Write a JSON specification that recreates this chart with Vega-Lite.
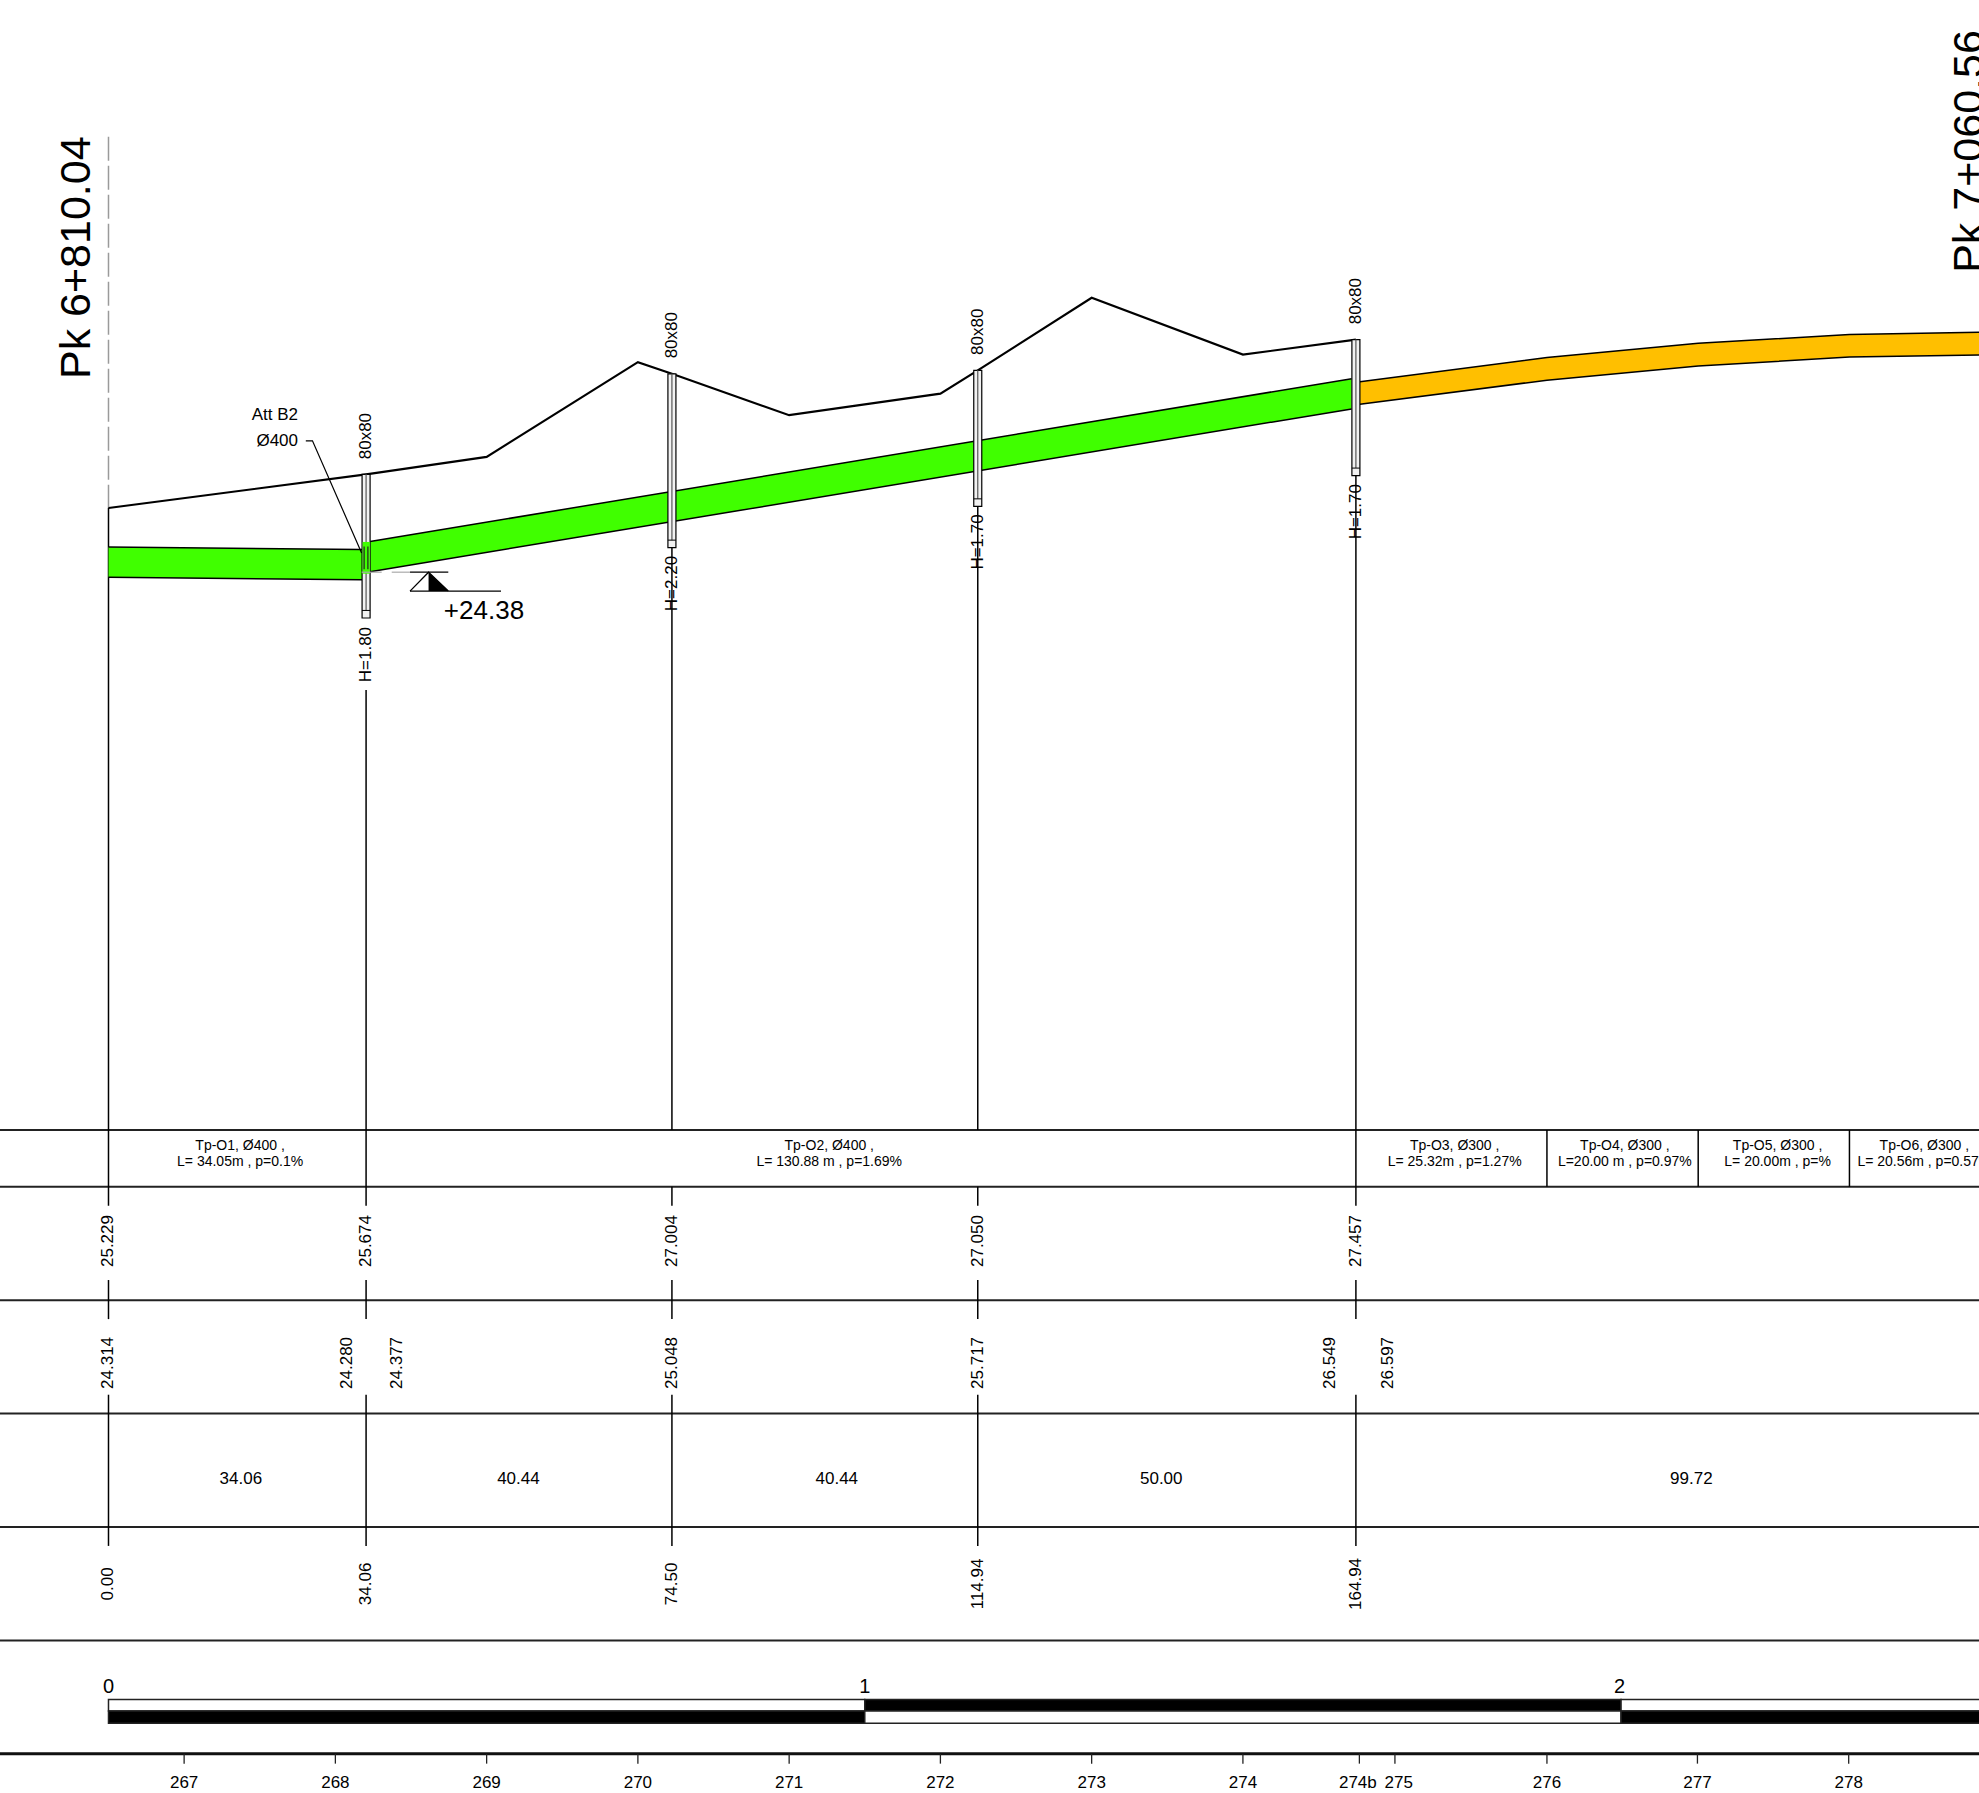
{"$schema":"https://vega.github.io/schema/vega-lite/v6.json","width":1979,"height":1793,"padding":0,"autosize":{"type":"none"},"background":"white","config":{"view":{"stroke":null}},
"datasets":{
"horiz":[{"y":17,"x":-14.346,"x2":247.33},{"y":16.25,"x":-14.346,"x2":247.33},{"y":14.75,"x":-14.346,"x2":247.33},{"y":13.25,"x":-14.346,"x2":247.33},{"y":11.75,"x":-14.346,"x2":247.33},{"y":10.25,"x":-14.346,"x2":247.33}],
"vert":[{"x":0,"y":25.229,"y2":16},{"x":0,"y":15.017,"y2":14.5},{"x":0,"y":13.5,"y2":11.5},
{"x":34.06,"y":22.82,"y2":16},{"x":34.06,"y":15.017,"y2":14.5},{"x":34.06,"y":13.5,"y2":11.5},
{"x":74.5,"y":24.7,"y2":17},{"x":74.5,"y":16.25,"y2":16},{"x":74.5,"y":15.017,"y2":14.5},{"x":74.5,"y":13.5,"y2":11.5},
{"x":114.94,"y":25.25,"y2":17},{"x":114.94,"y":16.25,"y2":16},{"x":114.94,"y":15.017,"y2":14.5},{"x":114.94,"y":13.5,"y2":11.5},
{"x":164.94,"y":25.657,"y2":16},{"x":164.94,"y":15.017,"y2":14.5},{"x":164.94,"y":13.5,"y2":11.5},
{"x":190.2,"y":17,"y2":16.25},{"x":210.2,"y":17,"y2":16.25},{"x":230.2,"y":17,"y2":16.25}],
"pipes":[{"pipe":"P1","kind":"green","x":0,"inv":24.314,"crown":24.714},{"pipe":"P1","kind":"green","x":33.53,"inv":24.28,"crown":24.68},
{"pipe":"P2","kind":"green","x":34.59,"inv":24.386,"crown":24.786},{"pipe":"P2","kind":"green","x":164.38,"inv":26.54,"crown":26.94},
{"pipe":"P3","kind":"orange","x":165.47,"inv":26.6,"crown":26.9},{"pipe":"P3","kind":"orange","x":190.2,"inv":26.92,"crown":27.22},{"pipe":"P3","kind":"orange","x":210.2,"inv":27.107,"crown":27.407},{"pipe":"P3","kind":"orange","x":230.2,"inv":27.225,"crown":27.525},{"pipe":"P3","kind":"orange","x":247.33,"inv":27.253,"crown":27.553}],
"ground":[{"x":0,"y":25.229},{"x":34.06,"y":25.674},{"x":50,"y":25.906},{"x":70,"y":27.158},{"x":74.5,"y":27.004},{"x":90,"y":26.457},{"x":110,"y":26.741},{"x":114.94,"y":27.05},{"x":130,"y":28.01},{"x":150,"y":27.258},{"x":164.94,"y":27.457}],
"manholes":[{"x":33.53,"x2":34.59,"cx":34.06,"y":25.674,"y2":23.774,"inner":23.874},{"x":73.97,"x2":75.03,"cx":74.5,"y":27.004,"y2":24.704,"inner":24.804},{"x":114.41,"x2":115.47,"cx":114.94,"y":27.05,"y2":25.25,"inner":25.35},{"x":164.41,"x2":165.47,"cx":164.94,"y":27.457,"y2":25.657,"inner":25.757}],
"scaleBar":[{"x":0,"x2":100,"y":9.47,"y2":9.317,"shade":"w"},{"x":100,"x2":200,"y":9.47,"y2":9.317,"shade":"b"},{"x":200,"x2":250,"y":9.47,"y2":9.317,"shade":"w"},{"x":0,"x2":100,"y":9.317,"y2":9.154,"shade":"b"},{"x":100,"x2":200,"y":9.317,"y2":9.154,"shade":"w"},{"x":200,"x2":250,"y":9.317,"y2":9.154,"shade":"b"}],
"ticks":[{"x":10,"y":8.75,"y2":8.62},{"x":30,"y":8.75,"y2":8.62},{"x":50,"y":8.75,"y2":8.62},{"x":70,"y":8.75,"y2":8.62},{"x":90,"y":8.75,"y2":8.62},{"x":110,"y":8.75,"y2":8.62},{"x":130,"y":8.75,"y2":8.62},{"x":150,"y":8.75,"y2":8.62},{"x":165.4,"y":8.75,"y2":8.62},{"x":170.1,"y":8.75,"y2":8.62},{"x":190.2,"y":8.75,"y2":8.62},{"x":210.1,"y":8.75,"y2":8.62},{"x":230.1,"y":8.75,"y2":8.62}],
"rotated":[{"x":34.06,"y":26.18,"t":"80x80"},{"x":74.5,"y":27.515,"t":"80x80"},{"x":114.94,"y":27.56,"t":"80x80"},{"x":164.94,"y":27.965,"t":"80x80"},
{"x":34.06,"y":23.29,"t":"H=1.80"},{"x":74.5,"y":24.23,"t":"H=2.20"},{"x":114.94,"y":24.78,"t":"H=1.70"},{"x":164.94,"y":25.18,"t":"H=1.70"},
{"x":0,"y":15.533,"t":"25.229"},{"x":34.06,"y":15.533,"t":"25.674"},{"x":74.5,"y":15.533,"t":"27.004"},{"x":114.94,"y":15.533,"t":"27.050"},{"x":164.94,"y":15.533,"t":"27.457"},
{"x":0,"y":13.92,"t":"24.314"},{"x":31.5,"y":13.92,"t":"24.280"},{"x":38.13,"y":13.92,"t":"24.377"},{"x":74.5,"y":13.92,"t":"25.048"},{"x":114.94,"y":13.92,"t":"25.717"},{"x":161.5,"y":13.92,"t":"26.549"},{"x":169.2,"y":13.92,"t":"26.597"},
{"x":0,"y":10.997,"t":"0.00"},{"x":34.06,"y":10.997,"t":"34.06"},{"x":74.5,"y":10.997,"t":"74.50"},{"x":114.94,"y":10.997,"t":"114.94"},{"x":164.94,"y":10.997,"t":"164.94"}],
"partial":[{"x":17.5,"y":12.39,"t":"34.06"},{"x":54.2,"y":12.39,"t":"40.44"},{"x":96.3,"y":12.39,"t":"40.44"},{"x":139.2,"y":12.39,"t":"50.00"},{"x":209.3,"y":12.39,"t":"99.72"}],
"tp":[{"x":17.4,"y":16.79,"t":"Tp-O1, Ø400 ,"},{"x":17.4,"y":16.58,"t":"L= 34.05m , p=0.1%"},{"x":95.3,"y":16.79,"t":"Tp-O2, Ø400 ,"},{"x":95.3,"y":16.58,"t":"L= 130.88 m , p=1.69%"},{"x":178,"y":16.79,"t":"Tp-O3, Ø300 ,"},{"x":178,"y":16.58,"t":"L= 25.32m , p=1.27%"},{"x":200.5,"y":16.79,"t":"Tp-O4, Ø300 ,"},{"x":200.5,"y":16.58,"t":"L=20.00 m , p=0.97%"},{"x":220.7,"y":16.79,"t":"Tp-O5, Ø300 ,"},{"x":220.7,"y":16.58,"t":"L= 20.00m , p=%"},{"x":240.1,"y":16.79,"t":"Tp-O6, Ø300 ,"},{"x":240.1,"y":16.58,"t":"L= 20.56m , p=0.57%"}],
"pk":[{"x":-4.1,"y":28.54,"t":"Pk 6+810.04"},{"x":246.1,"y":29.945,"t":"Pk 7+060.56"}],
"bottomLabels":[{"x":10,"y":8.37,"t":"267"},{"x":30,"y":8.37,"t":"268"},{"x":50,"y":8.37,"t":"269"},{"x":70,"y":8.37,"t":"270"},{"x":90,"y":8.37,"t":"271"},{"x":110,"y":8.37,"t":"272"},{"x":130,"y":8.37,"t":"273"},{"x":150,"y":8.37,"t":"274"},{"x":165.2,"y":8.37,"t":"274b"},{"x":170.6,"y":8.37,"t":"275"},{"x":190.2,"y":8.37,"t":"276"},{"x":210.1,"y":8.37,"t":"277"},{"x":230.1,"y":8.37,"t":"278"}],
"scaleLabels":[{"x":0,"y":9.63,"t":"0"},{"x":100,"y":9.63,"t":"1"},{"x":199.8,"y":9.63,"t":"2"}]
},
"encoding":{"x":{"field":"x","type":"quantitative","axis":null,"scale":{"domain":[-14.346,247.33],"nice":false,"zero":false}},"y":{"field":"y","type":"quantitative","axis":null,"scale":{"domain":[8.2316,31.9487],"nice":false,"zero":false}}},
"layer":[
{"data":{"name":"horiz"},"mark":{"type":"rule","color":"#222","strokeWidth":2},"encoding":{"x2":{"field":"x2"}}},
{"data":{"values":[{"y":8.75,"x":-14.346,"x2":247.33}]},"mark":{"type":"rule","color":"#111","strokeWidth":3},"encoding":{"x2":{"field":"x2"}}},
{"data":{"name":"vert"},"mark":{"type":"rule","color":"black","strokeWidth":1.5},"encoding":{"y2":{"field":"y2"}}},
{"data":{"values":[{"x":0,"y":30.14,"y2":25.229}]},"mark":{"type":"rule","color":"#9a9a9a","strokeWidth":1.5,"strokeDash":[24,5]},"encoding":{"y2":{"field":"y2"}}},
{"data":{"name":"pipes"},"mark":{"type":"area","clip":true},"encoding":{"y":{"field":"crown","type":"quantitative"},"y2":{"field":"inv"},"detail":{"field":"pipe"},"color":{"field":"kind","type":"nominal","legend":null,"scale":{"domain":["green","orange"],"range":["#40FF00","#FFBF00"]}}}},
{"data":{"name":"pipes"},"mark":{"type":"line","color":"black","strokeWidth":1.5,"clip":true},"encoding":{"y":{"field":"crown","type":"quantitative"},"detail":{"field":"pipe"}}},
{"data":{"name":"pipes"},"mark":{"type":"line","color":"black","strokeWidth":1.5,"clip":true},"encoding":{"y":{"field":"inv","type":"quantitative"},"detail":{"field":"pipe"}}},
{"data":{"name":"ground"},"mark":{"type":"line","color":"black","strokeWidth":2.2}},
{"data":{"name":"manholes"},"mark":{"type":"rect","fill":"#f2f2f2","stroke":"black","strokeWidth":1.2},"encoding":{"x2":{"field":"x2"},"y2":{"field":"y2"}}},
{"data":{"name":"manholes"},"mark":{"type":"rule","color":"#555","strokeWidth":1.2},"encoding":{"x":{"field":"cx","type":"quantitative"},"y2":{"field":"inner"}}},
{"data":{"name":"manholes"},"mark":{"type":"rule","color":"black","strokeWidth":1},"encoding":{"y":{"field":"inner","type":"quantitative"},"x2":{"field":"x2"}}},
{"data":{"values":[{"x":33.6,"x2":34.55,"y":24.78,"y2":24.36}]},"mark":{"type":"rect","fill":"#40FF00"},"encoding":{"x2":{"field":"x2"},"y2":{"field":"y2"}}},
{"data":{"values":[{"x":33.8,"y":24.72,"y2":24.42},{"x":34.3,"y":24.72,"y2":24.42}]},"mark":{"type":"rule","color":"#222","strokeWidth":1.2},"encoding":{"y2":{"field":"y2"}}},
{"data":{"values":[{"x":26.09,"y":26.118},{"x":26.97,"y":26.118},{"x":33.47,"y":24.634}]},"mark":{"type":"line","color":"black","strokeWidth":1.2}},
{"data":{"values":[{"x":33.48,"x2":36.12,"y":24.38},{"x":37.45,"x2":39.87,"y":24.38}]},"mark":{"type":"rule","color":"#aaa","strokeWidth":1.2},"encoding":{"x2":{"field":"x2"}}},
{"data":{"values":[{"x":39.87,"x2":44.93,"y":24.38},{"x":39.87,"x2":51.9,"y":24.13}]},"mark":{"type":"rule","color":"black","strokeWidth":1.3},"encoding":{"x2":{"field":"x2"}}},
{"data":{"values":[{"x":39.87,"y":24.13},{"x":42.32,"y":24.38},{"x":44.93,"y":24.13}]},"mark":{"type":"line","color":"black","strokeWidth":1.3}},
{"data":{"values":[{"x":42.32,"y":24.38,"y2":24.13},{"x":44.93,"y":24.13,"y2":24.13}]},"mark":{"type":"area","color":"black"},"encoding":{"y2":{"field":"y2"}}},
{"data":{"name":"scaleBar"},"mark":{"type":"rect","stroke":"#222","strokeWidth":1.5,"clip":true},"encoding":{"x2":{"field":"x2"},"y2":{"field":"y2"},"fill":{"field":"shade","type":"nominal","legend":null,"scale":{"domain":["w","b"],"range":["white","black"]}}}},
{"data":{"name":"ticks"},"mark":{"type":"rule","color":"#222","strokeWidth":1.3},"encoding":{"y2":{"field":"y2"}}},
{"data":{"name":"rotated"},"mark":{"type":"text","angle":270,"font":"Liberation Sans","fontSize":17,"color":"black","align":"center","baseline":"middle"},"encoding":{"text":{"field":"t"}}},
{"data":{"name":"partial"},"mark":{"type":"text","font":"Liberation Sans","fontSize":17,"color":"black","align":"center","baseline":"middle"},"encoding":{"text":{"field":"t"}}},
{"data":{"name":"tp"},"mark":{"type":"text","font":"Liberation Sans","fontSize":14,"color":"black","align":"center","baseline":"middle","clip":true},"encoding":{"text":{"field":"t"}}},
{"data":{"name":"pk"},"mark":{"type":"text","angle":270,"font":"Liberation Sans","fontSize":43,"color":"black","align":"center","baseline":"middle","clip":true},"encoding":{"text":{"field":"t"}}},
{"data":{"name":"bottomLabels"},"mark":{"type":"text","font":"Liberation Sans","fontSize":17,"color":"black","align":"center","baseline":"middle"},"encoding":{"text":{"field":"t"}}},
{"data":{"name":"scaleLabels"},"mark":{"type":"text","font":"Liberation Sans","fontSize":20,"color":"black","align":"center","baseline":"middle"},"encoding":{"text":{"field":"t"}}},
{"data":{"values":[{"x":25.06,"y":26.46,"t":"Att B2"},{"x":25.06,"y":26.11,"t":"Ø400"}]},"mark":{"type":"text","font":"Liberation Sans","fontSize":17,"color":"black","align":"right","baseline":"middle"},"encoding":{"text":{"field":"t"}}},
{"data":{"values":[{"x":49.65,"y":23.87,"t":"+24.38"}]},"mark":{"type":"text","font":"Liberation Sans","fontSize":26,"color":"black","align":"center","baseline":"middle"},"encoding":{"text":{"field":"t"}}}
]}
